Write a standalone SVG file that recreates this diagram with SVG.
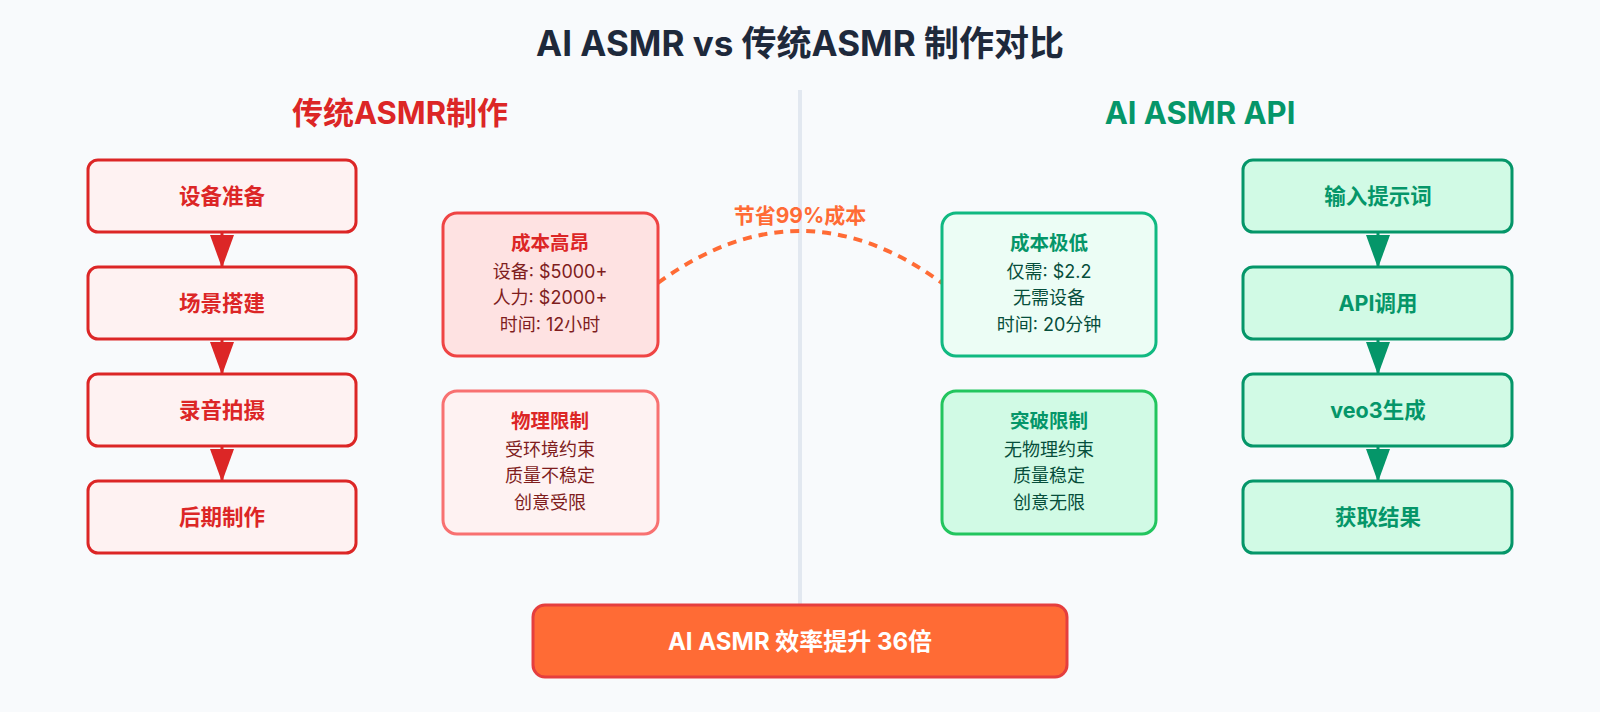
<svg xmlns="http://www.w3.org/2000/svg" width="1600" height="712" viewBox="0 0 1600 712">
<style>
text{font-family:Inter,"Noto Sans CJK SC","Noto Sans",sans-serif;text-anchor:middle;dominant-baseline:central}
.title{font-size:35px;font-weight:700;fill:#1e293b}
.sec{font-size:31px;font-weight:700}
.rbox{fill:#fef2f2;stroke:#dc2626;stroke-width:3}
.gbox{fill:#d1fae5;stroke:#059669;stroke-width:3}
.rt{fill:#dc2626;font-size:21.5px;font-weight:700}
.gt{fill:#059669;font-size:21.5px;font-weight:700}
.ct{font-size:19.5px;font-weight:700}
.cb{font-size:18px}
.rl{stroke:#dc2626;stroke-width:3}
.gl{stroke:#059669;stroke-width:3}
</style>
<defs>
<marker id="ar" markerUnits="userSpaceOnUse" markerWidth="33" markerHeight="24" viewBox="0 0 33 24" refX="33" refY="12" orient="auto"><path d="M0,0 L33,12 L0,24 z" fill="#dc2626"/></marker>
<marker id="ag" markerUnits="userSpaceOnUse" markerWidth="33" markerHeight="24" viewBox="0 0 33 24" refX="33" refY="12" orient="auto"><path d="M0,0 L33,12 L0,24 z" fill="#059669"/></marker>
</defs>
<rect width="1600" height="712" fill="#f8fafc"/>
<text class="title" x="800" y="43">AI ASMR vs 传统ASMR 制作对比</text>
<line x1="800" y1="90" x2="800" y2="606" stroke="#e2e8f0" stroke-width="4"/>
<text class="sec" x="400" y="112" fill="#dc2626">传统ASMR制作</text>
<text class="sec" x="1200" y="112" fill="#059669">AI ASMR API</text>

<g id="connectors">
<line class="rl" x1="222" y1="232" x2="222" y2="268" marker-end="url(#ar)"/>
<line class="rl" x1="222" y1="339" x2="222" y2="375" marker-end="url(#ar)"/>
<line class="rl" x1="222" y1="446" x2="222" y2="482" marker-end="url(#ar)"/>
<line class="gl" x1="1378" y1="232" x2="1378" y2="268" marker-end="url(#ag)"/>
<line class="gl" x1="1378" y1="339" x2="1378" y2="375" marker-end="url(#ag)"/>
<line class="gl" x1="1378" y1="446" x2="1378" y2="482" marker-end="url(#ag)"/>
<path d="M658,283 Q800,179 942,283" fill="none" stroke="#ff6b35" stroke-width="4" stroke-dasharray="9,7"/>
<text x="800" y="215" fill="#ff6b35" font-size="21" font-weight="700">节省99%成本</text>
</g>

<g id="l1"><rect class="rbox" x="88" y="160" width="268" height="72" rx="10"/><text class="rt" x="222" y="196">设备准备</text></g>
<g id="l2"><rect class="rbox" x="88" y="267" width="268" height="72" rx="10"/><text class="rt" x="222" y="303">场景搭建</text></g>
<g id="l3"><rect class="rbox" x="88" y="374" width="268" height="72" rx="10"/><text class="rt" x="222" y="410">录音拍摄</text></g>
<g id="l4"><rect class="rbox" x="88" y="481" width="268" height="72" rx="10"/><text class="rt" x="222" y="517">后期制作</text></g>

<g id="r1"><rect class="gbox" x="1243" y="160" width="269" height="72" rx="10"/><text class="gt" x="1378" y="196">输入提示词</text></g>
<g id="r2"><rect class="gbox" x="1243" y="267" width="269" height="72" rx="10"/><text class="gt" x="1378" y="303">API调用</text></g>
<g id="r3"><rect class="gbox" x="1243" y="374" width="269" height="72" rx="10"/><text class="gt" x="1378" y="410">veo3生成</text></g>
<g id="r4"><rect class="gbox" x="1243" y="481" width="269" height="72" rx="10"/><text class="gt" x="1378" y="517">获取结果</text></g>

<g id="c1"><rect x="443" y="213" width="215" height="143" rx="14" fill="#fee2e2" stroke="#ef4444" stroke-width="3"/>
<text class="ct" x="550" y="243" fill="#dc2626">成本高昂</text>
<text class="cb" x="550" y="271" fill="#7f1d1d">设备: $5000+</text>
<text class="cb" x="550" y="297" fill="#7f1d1d">人力: $2000+</text>
<text class="cb" x="550" y="324" fill="#7f1d1d">时间: 12小时</text></g>
<g id="c2"><rect x="443" y="391" width="215" height="143" rx="14" fill="#fef2f2" stroke="#f87171" stroke-width="3"/>
<text class="ct" x="550" y="421" fill="#dc2626">物理限制</text>
<text class="cb" x="550" y="449" fill="#7f1d1d">受环境约束</text>
<text class="cb" x="550" y="475" fill="#7f1d1d">质量不稳定</text>
<text class="cb" x="550" y="502" fill="#7f1d1d">创意受限</text></g>
<g id="c3"><rect x="942" y="213" width="214" height="143" rx="14" fill="#ecfdf5" stroke="#10b981" stroke-width="3"/>
<text class="ct" x="1049" y="243" fill="#059669">成本极低</text>
<text class="cb" x="1049" y="271" fill="#064e3b">仅需: $2.2</text>
<text class="cb" x="1049" y="297" fill="#064e3b">无需设备</text>
<text class="cb" x="1049" y="324" fill="#064e3b">时间: 20分钟</text></g>
<g id="c4"><rect x="942" y="391" width="214" height="143" rx="14" fill="#d1fae5" stroke="#22c55e" stroke-width="3"/>
<text class="ct" x="1049" y="421" fill="#059669">突破限制</text>
<text class="cb" x="1049" y="449" fill="#064e3b">无物理约束</text>
<text class="cb" x="1049" y="475" fill="#064e3b">质量稳定</text>
<text class="cb" x="1049" y="502" fill="#064e3b">创意无限</text></g>

<g id="bottom"><rect x="533" y="605" width="534" height="72" rx="12" fill="#ff6b35" stroke="#e53e3e" stroke-width="3"/>
<text x="800" y="641" fill="#ffffff" font-size="24" font-weight="700">AI ASMR 效率提升 36倍</text></g>
</svg>
